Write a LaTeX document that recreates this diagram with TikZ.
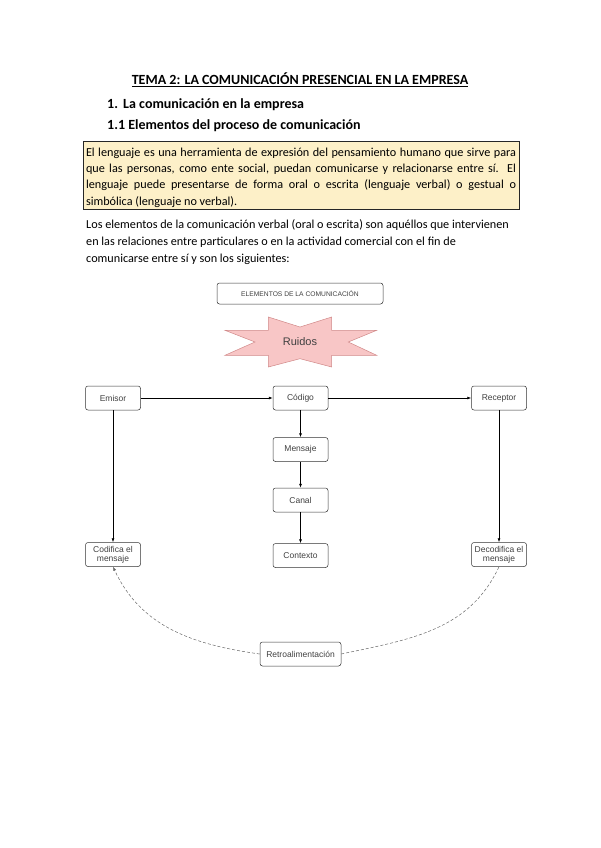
\documentclass[tikz,border=0pt]{standalone}
\usepackage{fontspec}
\setmainfont{Carlito}
\newfontfamily\diagfont{Liberation Sans}
\usetikzlibrary{arrows.meta,positioning}

\definecolor{notefill}{HTML}{FDF0C8}
\definecolor{noisefill}{HTML}{F8C6C6}
\definecolor{noisedraw}{HTML}{D08888}

\begin{document}
\begin{tikzpicture}[
  x=1pt, y=-1pt,
  title/.style={font=\bfseries\fontsize{14}{16}\selectfont, anchor=base, inner sep=0},
  heading/.style={font=\bfseries\fontsize{14}{16}\selectfont, anchor=base west, inner sep=0},
  body/.style={font=\fontsize{12.2}{17}\selectfont, inner sep=0},
  notebox/.style={draw=black!85, line width=0.8pt, fill=notefill, minimum width=436pt, minimum height=68pt},
  notetext/.style={text width=430pt, align=justify, inner sep=0, font=\fontsize{12.2}{16.3}\selectfont},
  elem/.style={draw=black!80, rounded corners=2.5pt, line width=0.5pt, minimum width=55pt,
    minimum height=24pt, font=\diagfont\fontsize{8.5}{9}\selectfont, text=black!75,
    align=center, inner sep=0.5pt},
  arr/.style={-{Latex[length=4pt,width=3pt]}, line width=0.6pt},
  feedback/.style={densely dashed, black!60, line width=0.5pt}
]
\useasboundingbox (0,0) rectangle (600,848);

% encabezados
\node[title] (tema) at (300,84.5) {\underline{TEMA 2: LA COMUNICACIÓN PRESENCIAL EN LA EMPRESA}};
\node[heading] (h1) at (107,109) {\makebox[16pt][l]{1.}La comunicación en la empresa};
\node[heading] (h11) at (107,129) {1.1 Elementos del proceso de comunicación};

\node[notebox] (marco) at (301,175) {};
\node[notetext] (lenguaje) at (301,177.5) {El lenguaje es una herramienta de expresión del pensamiento humano que sirve para\linebreak
que las personas, como ente social, puedan comunicarse y relacionarse entre sí. El\linebreak
lenguaje puede presentarse de forma oral o escrita (lenguaje verbal) o gestual o\linebreak
simbólica (lenguaje no verbal).};

\node[body, anchor=north west, align=left] (intro) at (86,219) {Los elementos de la comunicación verbal (oral o escrita) son aquéllos que intervienen\\
en las relaciones entre particulares o en la actividad comercial con el fin de\\
comunicarse entre sí y son los siguientes:};

% esquema
\node[elem, minimum width=166pt, minimum height=21pt, font=\diagfont\fontsize{6.7}{8}\selectfont] (elementos) at (300,293.5) {ELEMENTOS DE LA COMUNICACIÓN};

\draw[fill=noisefill, draw=noisedraw, line width=0.5pt]
  (268.3,317) -- (300,327) -- (331.7,317) -- (331.7,330.3) -- (376.7,330.3) -- (348.3,342)
  -- (376.7,355.3) -- (331.7,355.3) -- (331.7,367) -- (300,358.7) -- (268.3,367)
  -- (268.3,355.3) -- (225,355.3) -- (255,342) -- (225,330.3) -- (268.3,330.3) -- cycle;
\node[font=\diagfont\fontsize{11}{12}\selectfont, text=black!75] (ruidos) at (300,342) {Ruidos};

\node[elem] (emisor) at (113,398) {Emisor};
\node[elem, right=132pt of emisor] (codigo) {Código};
\node[elem, right=143pt of codigo] (receptor) {Receptor};
\node[elem, below=27pt of codigo] (mensaje) {Mensaje};
\node[elem, below=26pt of mensaje] (canal) {Canal};
\node[elem, below=31pt of canal] (contexto) {Contexto};
\node[elem, below=132pt of emisor] (codifica) {Codifica el\\mensaje};
\node[elem, below=132pt of receptor] (decodifica) {Decodifica el\\mensaje};
\node[elem, minimum width=81pt, below=74pt of contexto] (retro) {Retroalimentación};

\draw[arr] (emisor) -- (codigo);
\draw[arr] (codigo) -- (receptor);
\draw[arr] (codigo) -- (mensaje);
\draw[arr] (mensaje) -- (canal);
\draw[arr] (canal) -- (contexto);
\draw[arr] (emisor) -- (codifica);
\draw[arr] (receptor) -- (decodifica);

\draw[feedback, -{Latex[length=4pt,width=3pt]}] (retro.west) to[out=172, in=-65] (codifica.south);
\draw[feedback] (retro.east) to[out=12, in=-115] (decodifica.south);

\end{tikzpicture}
\end{document}
